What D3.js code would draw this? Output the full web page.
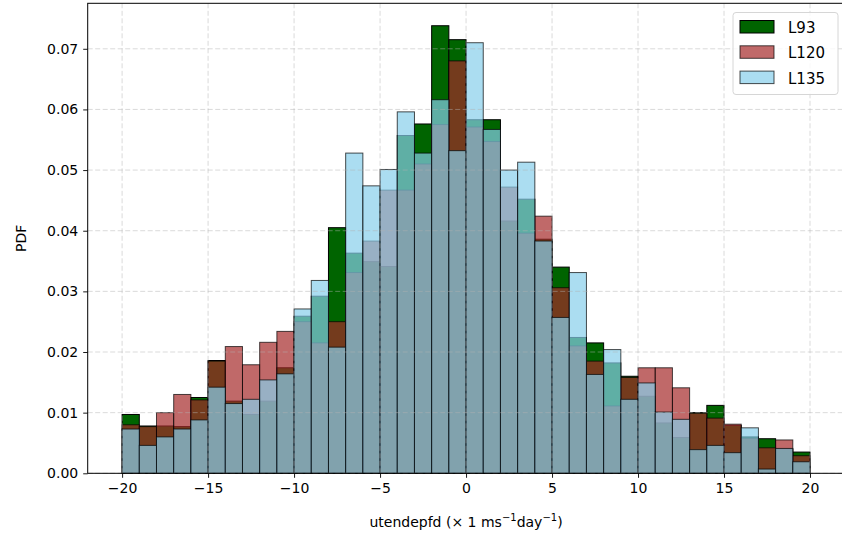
<!DOCTYPE html>
<html>
<head>
<meta charset="utf-8">
<script src="https://cdn.jsdelivr.net/npm/d3@7"></script>
<style>
  body { margin: 0; background: #fff; }
  svg text { font-family: "DejaVu Sans", sans-serif; fill: #000; }
</style>
</head>
<body>
<svg id="chart" width="842" height="534"></svg>
<script>
// bin edges, width 1
var binEdges = [-20, -19, -18, -17, -16, -15, -14, -13, -12, -11, -10, -9, -8, -7, -6, -5, -4, -3, -2, -1,
  0, 1, 2, 3, 4, 5, 6, 7, 8, 9, 10, 11, 12, 13, 14, 15, 16, 17, 18, 19, 20];

var seriesNames = ["L93", "L120", "L135"];

var l93 = [0.0097, 0.0078, 0.0078, 0.0077, 0.0125, 0.0186, 0.0119, 0.0097, 0.0119, 0.0174,
  0.0259, 0.0292, 0.0405, 0.0363, 0.0349, 0.0341, 0.0557, 0.0576, 0.0738, 0.0715,
  0.0583, 0.0583, 0.0416, 0.0452, 0.0386, 0.0340, 0.0224, 0.0215, 0.0182, 0.0160,
  0.0127, 0.0083, 0.0059, 0.0100, 0.0112, 0.0079, 0.0060, 0.0057, 0.0040, 0.0035];

var l120 = [0.0080, 0.0077, 0.0100, 0.0130, 0.0121, 0.0185, 0.0209, 0.0179, 0.0216, 0.0234,
  0.0250, 0.0215, 0.0250, 0.0331, 0.0383, 0.0467, 0.0467, 0.0510, 0.0575, 0.0680,
  0.0571, 0.0547, 0.0472, 0.0396, 0.0424, 0.0306, 0.0210, 0.0185, 0.0111, 0.0158,
  0.0174, 0.0174, 0.0141, 0.0099, 0.0091, 0.0081, 0.0058, 0.0042, 0.0055, 0.0029];

var l135 = [0.0073, 0.0046, 0.0060, 0.0073, 0.0088, 0.0142, 0.0115, 0.0122, 0.0154, 0.0164,
  0.0271, 0.0318, 0.0208, 0.0528, 0.0474, 0.0501, 0.0596, 0.0528, 0.0616, 0.0532,
  0.0710, 0.0567, 0.0500, 0.0513, 0.0383, 0.0257, 0.0331, 0.0163, 0.0204, 0.0122,
  0.0149, 0.0101, 0.0089, 0.0039, 0.0046, 0.0034, 0.0075, 0.0007, 0.0041, 0.0019];

var xTicks = [-20, -15, -10, -5, 0, 5, 10, 15, 20];
var yTicks = [0, 0.01, 0.02, 0.03, 0.04, 0.05, 0.06, 0.07];

var colors = ["darkgreen", "brown", "skyblue"];
var alphas = [1, 0.7, 0.7];

var svg = d3.select("#chart"),
  margin = {top: 3.3, left: 87.7},
  right = 844.4,
  bottom = 473.3;

var x = d3.scaleLinear().domain([-22, 22]).range([margin.left, right]);
var y = d3.scaleLinear().domain([0, 0.0775]).range([bottom, margin.top]);

var allSeries = [l93, l120, l135];

allSeries.forEach(function (vals, i) {
  var bins = vals.map(function (v, j) { return {x0: binEdges[j], x1: binEdges[j + 1], v: v}; });
  svg.append("g").attr("class", "hist-" + seriesNames[i])
    .selectAll("rect")
    .data(bins)
    .enter().append("rect")
      .attr("x", function (d) { return x(d.x0); })
      .attr("y", function (d) { return y(d.v); })
      .attr("width", function (d) { return x(d.x1) - x(d.x0); })
      .attr("height", function (d) { return y(0) - y(d.v); })
      .attr("fill", colors[i])
      .attr("fill-opacity", alphas[i])
      .attr("stroke", "#000")
      .attr("stroke-opacity", alphas[i])
      .attr("stroke-width", 1);
});

// grid on top of the bars (matplotlib default)
var grid = svg.append("g").attr("class", "grid")
  .attr("stroke", "#b0b0b0")
  .attr("stroke-opacity", 0.6)
  .attr("stroke-width", 0.8)
  .attr("stroke-dasharray", "5,2.5");

grid.selectAll("line.gx")
  .data(xTicks)
  .enter().append("line")
    .attr("x1", function (d) { return x(d); })
    .attr("x2", function (d) { return x(d); })
    .attr("y1", margin.top)
    .attr("y2", bottom);

grid.selectAll("line.gy")
  .data(yTicks)
  .enter().append("line")
    .attr("x1", margin.left)
    .attr("x2", right)
    .attr("y1", function (d) { return y(d); })
    .attr("y2", function (d) { return y(d); });

// axes
var xAxis = svg.append("g")
  .attr("transform", "translate(0," + bottom + ")")
  .call(d3.axisBottom(x).tickValues(xTicks).tickSize(4.5).tickPadding(5)
    .tickFormat(function (d) { return d < 0 ? "\u2212" + Math.abs(d) : d; }));

var yAxis = svg.append("g")
  .attr("transform", "translate(" + margin.left + ",0)")
  .call(d3.axisLeft(y).tickValues(yTicks).tickSize(4.5).tickPadding(5).tickFormat(d3.format(".2f")));

[xAxis, yAxis].forEach(function (a) {
  a.select(".domain").remove();
  a.selectAll("line").attr("stroke", "#000").attr("stroke-width", 0.9);
  a.selectAll("text").style("font-size", "14px").attr("fill", "#000");
});

// spines
svg.append("rect")
  .attr("x", margin.left)
  .attr("y", margin.top)
  .attr("width", right - margin.left)
  .attr("height", bottom - margin.top)
  .attr("fill", "none")
  .attr("stroke", "#000")
  .attr("stroke-width", 1);

// labels
svg.append("text")
  .attr("transform", "translate(26," + ((margin.top + bottom) / 2) + ") rotate(-90)")
  .attr("text-anchor", "middle")
  .style("font-size", "14px")
  .text("PDF");

var xl = svg.append("text")
  .attr("x", (margin.left + right) / 2)
  .attr("y", 527)
  .attr("text-anchor", "middle")
  .style("font-size", "14px");
xl.append("tspan").text("utendepfd (\u00d7 1 ms");
xl.append("tspan").attr("dy", -6).style("font-size", "10px").text("\u22121");
xl.append("tspan").attr("dy", 6).text("day");
xl.append("tspan").attr("dy", -6).style("font-size", "10px").text("\u22121");
xl.append("tspan").attr("dy", 6).text(")");

// legend
var gLegend = svg.append("g").attr("transform", "translate(733, 12.5)");
gLegend.append("rect")
  .attr("width", 105)
  .attr("height", 82)
  .attr("rx", 3)
  .attr("fill", "#fff")
  .attr("fill-opacity", 0.8)
  .attr("stroke", "#d6d6d6");

seriesNames.forEach(function (name, i) {
  gLegend.append("rect")
    .attr("x", 7)
    .attr("y", 8 + i * 25.3)
    .attr("width", 34)
    .attr("height", 12.5)
    .attr("fill", colors[i])
    .attr("fill-opacity", alphas[i])
    .attr("stroke", "#000")
    .attr("stroke-opacity", alphas[i]);
  gLegend.append("text")
    .attr("x", 55)
    .attr("y", 20.5 + i * 25.3)
    .style("font-size", "15px")
    .text(name);
});
</script>
</body>
</html>
